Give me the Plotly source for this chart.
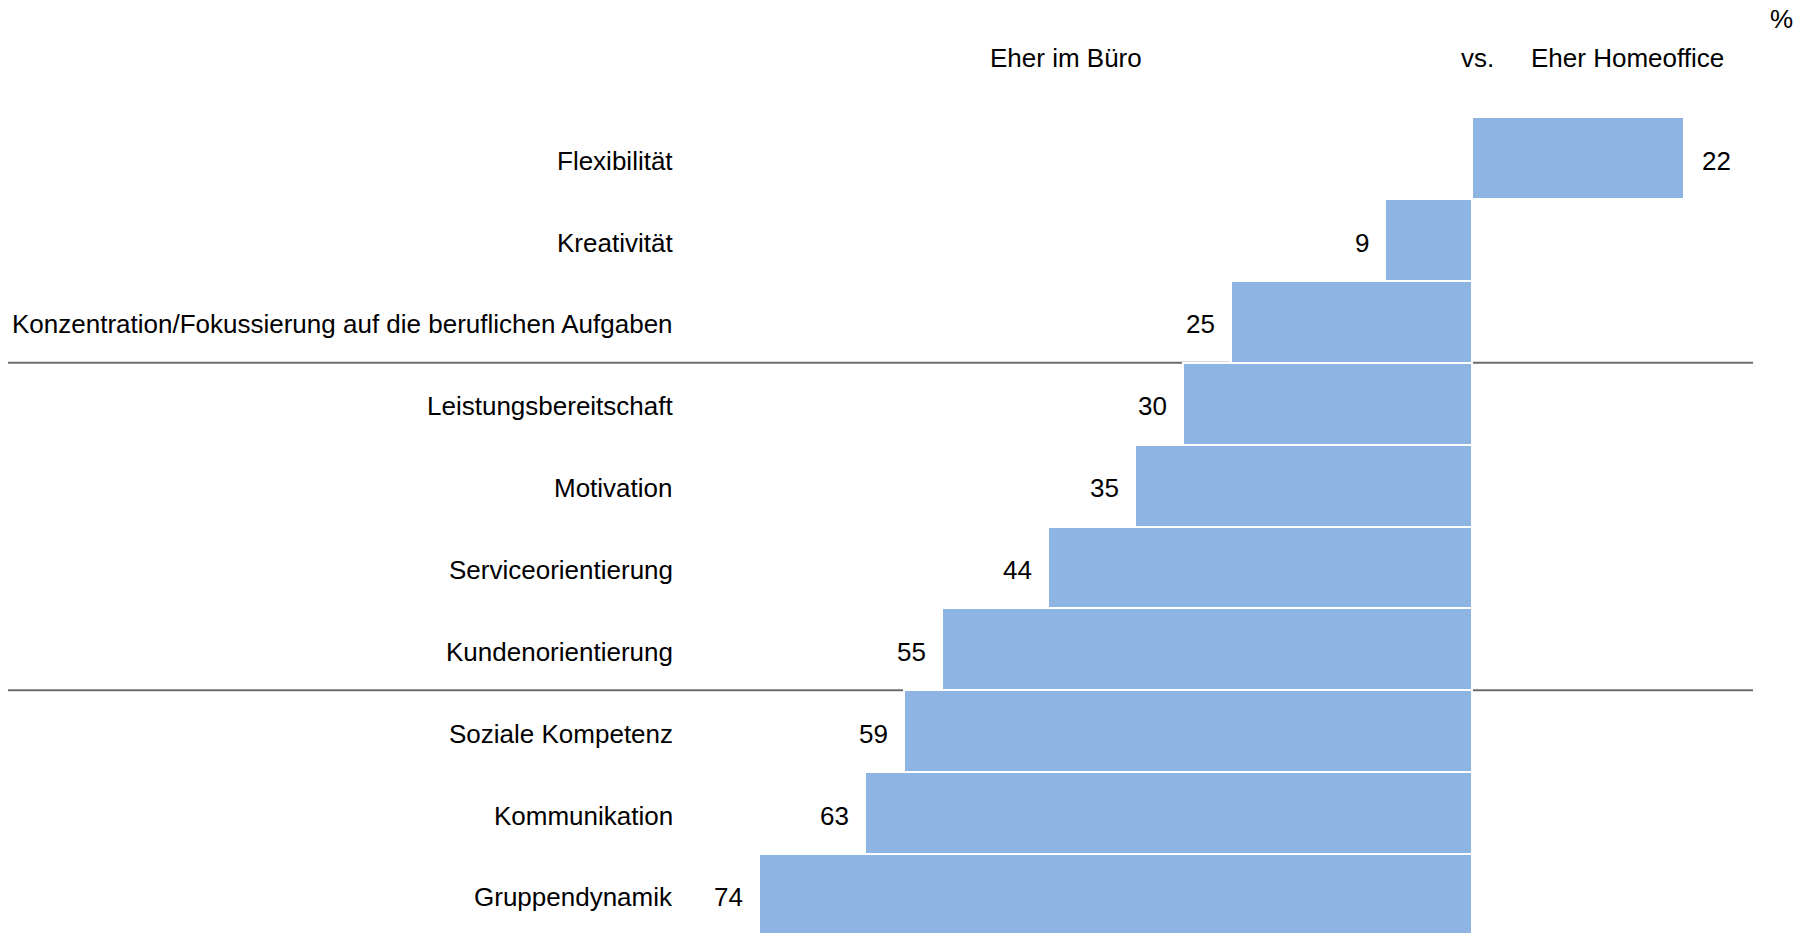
import plotly.graph_objects as go

categories = [
    "Flexibilität",
    "Kreativität",
    "Konzentration/Fokussierung auf die beruflichen Aufgaben",
    "Leistungsbereitschaft",
    "Motivation",
    "Serviceorientierung",
    "Kundenorientierung",
    "Soziale Kompetenz",
    "Kommunikation",
    "Gruppendynamik",
]
values = [22, 9, 25, 30, 35, 44, 55, 59, 63, 74]
side = ["home", "office", "office", "office", "office", "office", "office", "office", "office", "office"]
header_left = "Eher im Büro"
header_mid = "vs."
header_right = "Eher Homeoffice"
unit = "%"
separators_after = [2, 6]

PAGE_W, PAGE_H = 1806, 933
OFF = 8  # default body margin of the html page
W, H = PAGE_W - OFF, PAGE_H - OFF
FONT = "Liberation Sans, Arial, sans-serif"
FS = 26
BAR = "#8EB4E3"


def px(xp):
    return (xp - OFF) / W


def py(yp):
    return 1 - (yp - OFF) / H


signed = [v if s == "home" else -v for v, s in zip(values, side)]
ypos = list(range(len(categories)))

fig = go.Figure()
fig.add_trace(go.Bar(
    x=signed, y=ypos, orientation="h", width=1.0,
    marker=dict(color=BAR, line=dict(color="white", width=2)),
    hoverinfo="skip",
))

ann = []
for i, (c, v, sv) in enumerate(zip(categories, values, signed)):
    ann.append(dict(xref="paper", x=px(674.5), y=i, yref="y", text=c, showarrow=False,
                    xanchor="right", yanchor="middle", yshift=-2.5,
                    font=dict(size=FS, color="black", family=FONT)))
    ann.append(dict(xref="x", x=sv, y=i, yref="y", text=str(v), showarrow=False,
                    xanchor="left" if sv > 0 else "right", xshift=16 if sv > 0 else -14,
                    yanchor="middle", yshift=-2.5, font=dict(size=FS, color="black", family=FONT)))

for txt, xc, yc in [(header_left, 1066, 58), (header_mid, 1477, 58), (header_right, 1627.5, 58), (unit, 1781, 19)]:
    ann.append(dict(xref="paper", yref="paper", x=px(xc), y=py(yc), text=txt, showarrow=False,
                    xanchor="center", yanchor="middle", font=dict(size=FS, color="black", family=FONT)))

shapes = []
for s in separators_after:
    shapes.append(dict(type="line", xref="paper", yref="y", x0=px(4.5), x1=px(1753), y0=s + 0.5, y1=s + 0.5,
                       line=dict(color="#6c6c6c", width=2), layer="below"))

scale = 9.63
zero_px = 1472 - OFF
pitch = 81.86
c0 = 158.2 - OFF
fig.update_layout(
    width=W, height=H,
    margin=dict(l=0, r=0, t=0, b=0),
    paper_bgcolor="white", plot_bgcolor="white",
    showlegend=False,
    xaxis=dict(range=[-zero_px / scale, (W - zero_px) / scale], visible=False, fixedrange=True),
    yaxis=dict(range=[(H - c0) / pitch, -c0 / pitch], visible=False, fixedrange=True),
    annotations=ann, shapes=shapes,
    bargap=0,
)
fig.write_html("out.html", config={"displayModeBar": False})
